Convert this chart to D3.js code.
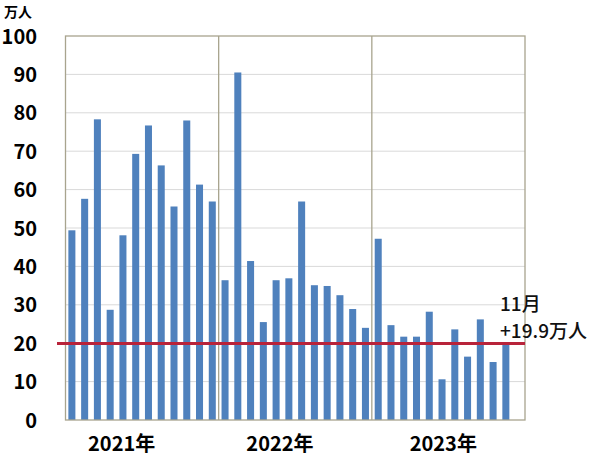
<!DOCTYPE html>
<html><head><meta charset="utf-8">
<script src="https://cdn.jsdelivr.net/npm/d3@7"></script>
<style>body{margin:0;background:#fff}svg{display:block}</style>
</head><body>
<svg id="c" width="600" height="458"></svg>
<script>
const months = d3.range(36); // Jan 2021 .. Dec 2023 slots
const values = [
  49.4, 57.6, 78.3, 28.7, 48.1, 69.3, 76.7, 66.3, 55.6, 78.0, 61.3, 56.9,
  36.4, 90.5, 41.4, 25.5, 36.4, 36.9, 56.9, 35.1, 34.9, 32.5, 28.9, 24.0,
  47.2, 24.7, 21.7, 21.7, 28.2, 10.6, 23.6, 16.5, 26.2, 15.1, 19.9
];
const yTicks = [0,10,20,30,40,50,60,70,80,90,100];
const years = ["2021年","2022年","2023年"];
const yearLabelPos = [4.4, 16.8, 29.6];
const yearStart = [12, 24];
const refValue = 19.9;
const annoLines = ["11月","+19.9万人"];

const svg = d3.select("#c");
const L = 65.5, R = 525, T = 36, B = 420;
const x = d3.scaleBand().domain(months).range([L, R]).paddingInner(0.45).paddingOuter(0.225);
const xs = d3.scaleLinear().domain([0, 36]).range([L, R]);
const y = d3.scaleLinear().domain([0, 100]).range([B, T]);
const font = "'Noto Sans CJK JP','Noto Sans',sans-serif";

// gridlines
svg.append("g").selectAll("line").data(yTicks.filter(d => d > 0 && d < 100)).join("line")
  .attr("x1", L).attr("x2", R).attr("y1", d => y(d)).attr("y2", d => y(d))
  .attr("stroke", "#d9d9d9").attr("stroke-width", 1);

// bars
svg.append("g").selectAll("rect").data(values).join("rect")
  .attr("x", (d, i) => x(i)).attr("width", x.bandwidth())
  .attr("y", d => y(d)).attr("height", d => B - y(d))
  .attr("fill", "#4f81bd");

// year dividers
svg.append("g").selectAll("line").data(yearStart).join("line")
  .attr("x1", d => xs(d)).attr("x2", d => xs(d)).attr("y1", T).attr("y2", B)
  .attr("stroke", "#a8a48e").attr("stroke-width", 1.3);

// frame
svg.append("rect").attr("x", L).attr("y", T).attr("width", R - L).attr("height", B - T)
  .attr("fill", "none").attr("stroke", "#a8a48e").attr("stroke-width", 1.3);

// reference line
svg.append("line").attr("x1", 57).attr("x2", R).attr("y1", y(refValue)).attr("y2", y(refValue))
  .attr("stroke", "#b8233a").attr("stroke-width", 3);

// y axis labels
const yAxis = d3.axisLeft(y).tickValues(yTicks).tickSize(0).tickPadding(0);
const ga = svg.append("g").attr("transform", `translate(37,0)`).call(yAxis);
ga.select(".domain").remove();
ga.selectAll("text").attr("font-family", font).attr("font-size", 20).attr("font-weight", "bold")
  .attr("fill", "#000").attr("dy", "0.35em");

// unit
svg.append("text").attr("x", 4).attr("y", 17).text("万人")
  .attr("font-family", font).attr("font-size", 14).attr("font-weight", "bold");

// year labels
svg.append("g").selectAll("text").data(years).join("text")
  .attr("x", (d, i) => xs(yearLabelPos[i])).attr("y", 451).attr("text-anchor", "middle")
  .text(d => d).attr("font-family", font).attr("font-size", 20).attr("font-weight", "bold");

// annotation (one text block, two lines)
const anno = svg.append("text").attr("font-family", font).attr("font-size", 19)
  .attr("font-weight", 500).attr("fill", "#111");
anno.selectAll("tspan").data(annoLines).join("tspan")
  .attr("x", 500).attr("y", (d, i) => 311 + i * 27).text(d => d);
</script>
</body></html>
